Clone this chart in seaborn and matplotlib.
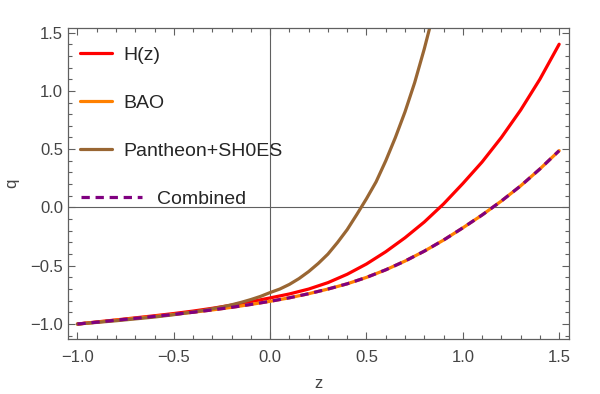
import matplotlib
matplotlib.use("Agg")
import matplotlib.pyplot as plt
from matplotlib.ticker import MultipleLocator
from matplotlib.lines import Line2D
import seaborn as sns

# redshift grid and q(z) curves
z = [-1.0, -0.9, -0.8, -0.7, -0.6, -0.5, -0.4, -0.3, -0.2, -0.1, 0.0,
     0.1, 0.2, 0.3, 0.4, 0.5, 0.6, 0.7, 0.8, 0.9, 1.0, 1.1, 1.2, 1.3, 1.4, 1.5]

q_hz = [-1.0, -0.982, -0.965, -0.947, -0.929, -0.91, -0.889, -0.865, -0.838, -0.808, -0.776,
        -0.742, -0.70, -0.645, -0.573, -0.485, -0.38, -0.26, -0.125, 0.03, 0.205,
        0.39, 0.60, 0.835, 1.10, 1.40]

q_bao = [-1.0, -0.984, -0.967, -0.951, -0.934, -0.917, -0.899, -0.879, -0.857, -0.832, -0.805,
         -0.775, -0.74, -0.70, -0.655, -0.60, -0.535, -0.46, -0.375, -0.28, -0.175,
         -0.065, 0.055, 0.185, 0.33, 0.487]

z_pan = [-1.0, -0.9, -0.8, -0.7, -0.6, -0.5, -0.4, -0.35, -0.3, -0.25, -0.2, -0.15, -0.1, -0.05,
         0.0, 0.05, 0.1, 0.15, 0.2, 0.25, 0.3, 0.35, 0.4, 0.45, 0.5, 0.55, 0.6, 0.65,
         0.7, 0.75, 0.8, 0.85, 0.9]
q_pan = [-1.0, -0.986, -0.972, -0.956, -0.94, -0.92, -0.897, -0.884, -0.869, -0.853, -0.835,
         -0.814, -0.79, -0.763, -0.73, -0.70, -0.66, -0.61, -0.55, -0.48, -0.40, -0.30,
         -0.19, -0.06, 0.075, 0.22, 0.40, 0.60, 0.82, 1.07, 1.36, 1.68, 2.03]

q_comb = [-1.0, -0.984, -0.967, -0.951, -0.934, -0.917, -0.899, -0.879, -0.857, -0.832, -0.805,
          -0.775, -0.74, -0.70, -0.655, -0.60, -0.535, -0.46, -0.375, -0.28, -0.175,
          -0.065, 0.055, 0.185, 0.33, 0.487]

sns.set_theme(style="white")
plt.rcParams['font.family'] = ['Liberation Sans', 'DejaVu Sans']

gray = "#606060"
fig = plt.figure(figsize=(6.0, 3.94), dpi=100)
ax = fig.add_axes([0.113, 0.14, 0.835, 0.788])

lw = 2.3
dash = (0, (2.6, 1.8))
sns.lineplot(x=z, y=q_hz, color="#FF0000", lw=lw, ax=ax, sort=False)
sns.lineplot(x=z, y=q_bao, color="#FF8000", lw=lw, ax=ax, sort=False)
sns.lineplot(x=z_pan, y=q_pan, color="#996633", lw=lw, ax=ax, sort=False)
sns.lineplot(x=z, y=q_comb, color="#800080", lw=lw, ax=ax, sort=False, linestyle=dash)

ax.axhline(0, color=gray, lw=0.8, zorder=0)
ax.axvline(0, color=gray, lw=0.8, zorder=0)

ax.set_xlim(-1.05, 1.55)
ax.set_ylim(-1.127, 1.536)
ax.xaxis.set_major_locator(MultipleLocator(0.5))
ax.xaxis.set_minor_locator(MultipleLocator(0.1))
ax.yaxis.set_major_locator(MultipleLocator(0.5))
ax.yaxis.set_minor_locator(MultipleLocator(0.1))
ax.xaxis.set_major_formatter(lambda v, p: f"{v:.1f}".replace("-", "\u2212"))
ax.yaxis.set_major_formatter(lambda v, p: f"{v:.1f}".replace("-", "\u2212"))
ax.tick_params(which="both", direction="in", bottom=True, left=True, top=True, right=True,
               colors=gray, labelcolor="#444444", labelsize=12, width=0.8)
ax.tick_params(which="major", length=5)
ax.tick_params(which="minor", length=3)
ax.tick_params(axis="x", pad=8)
for s in ax.spines.values():
    s.set_color(gray)
    s.set_linewidth(0.9)

ax.set_xlabel("z", fontsize=12, color="#444444", labelpad=8)
ax.set_ylabel("q", fontsize=12, color="#444444", labelpad=8)

h1 = [Line2D([], [], color="#FF0000", lw=lw),
      Line2D([], [], color="#FF8000", lw=lw),
      Line2D([], [], color="#996633", lw=lw)]
leg1 = ax.legend(h1, ["H(z)", "BAO", "Pantheon+SH0ES"], loc="upper left",
                 bbox_to_anchor=(0.0, 0.982), frameon=False, fontsize=14,
                 handlelength=1.6, handletextpad=0.6, labelspacing=1.55,
                 borderaxespad=0.25)
ax.add_artist(leg1)
h2 = [Line2D([], [], color="#800080", lw=lw, linestyle=dash)]
ax.legend(h2, ["Combined"], loc="center left", bbox_to_anchor=(0.0, 0.45),
          frameon=False, fontsize=14, handlelength=3.1, handletextpad=0.8,
          borderaxespad=0.3)

fig.savefig("out.png", dpi=100)
